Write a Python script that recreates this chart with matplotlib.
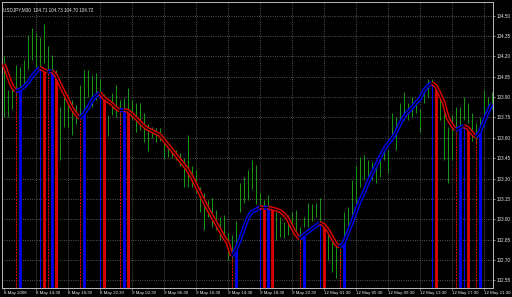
import matplotlib
matplotlib.use("Agg")
import matplotlib.pyplot as plt
import numpy as np

# ---------------- data (USDJPY, M30) ----------------
bar_high = [104.20, 103.95, 103.99, 104.14, 104.12, 104.17, 104.36, 104.41, 104.37, 104.34,
            104.44, 104.28, 104.21, 104.10, 103.83, 103.95, 103.89, 103.88, 103.84, 103.99,
            104.10, 104.10, 104.06, 104.08, 104.03, 103.92, 103.77, 103.93, 103.99, 103.88,
            103.89, 103.97, 103.88, 103.86, 103.86, 103.78, 103.70, 103.68, 103.67, 103.67,
            103.60, 103.57, 103.53, 103.51, 103.49, 103.45, 103.62, 103.39, 103.36, 103.24,
            103.19, 103.14, 103.16, 103.07, 103.02, 103.03, 102.90, 102.88, 102.99, 103.27,
            103.31, 103.36, 103.44, 103.40, 103.19, 103.14, 103.18, 103.02, 103.05, 103.02,
            102.98, 103.03, 103.05, 103.07, 102.94, 103.02, 103.12, 103.11, 103.12, 103.16,
            102.97, 102.90, 102.88, 102.80, 102.77, 103.05, 103.09, 103.29, 103.39, 103.46,
            103.47, 103.44, 103.42, 103.40, 103.46, 103.53, 103.51, 103.78, 103.75, 103.86,
            103.94, 103.86, 103.90, 103.88, 103.81, 103.97, 104.03, 104.03, 103.99, 103.90,
            103.78, 103.68, 103.77, 103.83, 103.83, 103.90, 103.86, 103.78, 103.71, 103.75,
            103.95, 103.90, 103.94]
bar_low = [103.75, 103.75, 103.81, 103.89, 103.95, 103.99, 104.11, 104.17, 104.12, 104.10,
           104.15, 104.06, 104.03, 103.75, 103.44, 103.68, 103.68, 103.62, 103.70, 103.77,
           103.81, 103.90, 103.83, 103.88, 103.79, 103.73, 103.61, 103.77, 103.75, 103.70,
           103.81, 103.75, 103.73, 103.64, 103.66, 103.57, 103.50, 103.60, 103.57, 103.58,
           103.45, 103.46, 103.45, 103.44, 103.39, 103.24, 103.24, 103.24, 103.19, 103.05,
           102.92, 103.02, 102.94, 102.92, 102.85, 102.87, 102.70, 102.69, 102.70, 103.05,
           103.12, 103.14, 103.22, 103.11, 103.02, 102.99, 103.03, 102.92, 102.85, 102.87,
           102.86, 102.88, 102.94, 102.90, 102.81, 102.94, 102.94, 102.99, 103.02, 102.98,
           102.82, 102.70, 102.61, 102.57, 102.63, 102.82, 102.90, 103.02, 103.12, 103.24,
           103.29, 103.27, 103.29, 103.27, 103.31, 103.44, 103.34, 103.58, 103.51, 103.68,
           103.73, 103.73, 103.75, 103.78, 103.64, 103.86, 103.90, 103.92, 103.84, 103.73,
           103.44, 103.27, 103.44, 103.64, 103.64, 103.73, 103.71, 103.58, 103.56, 103.64,
           103.73, 103.81, 103.81]
ma_values = [104.144, 104.063, 103.982, 103.945, 103.953, 103.975, 104.004, 104.049, 104.085, 104.115,
             104.100, 104.085, 104.093, 104.063, 103.997, 103.938, 103.879, 103.820, 103.776, 103.746,
             103.776, 103.820, 103.872, 103.908, 103.931, 103.894, 103.872, 103.850, 103.820, 103.802,
             103.805, 103.798, 103.776, 103.746, 103.717, 103.687, 103.665, 103.651, 103.636, 103.621,
             103.584, 103.547, 103.511, 103.474, 103.437, 103.400, 103.363, 103.312, 103.253, 103.194,
             103.135, 103.076, 103.024, 102.973, 102.921, 102.869, 102.825, 102.729, 102.774, 102.847,
             102.928, 103.009, 103.054, 103.068, 103.090, 103.083, 103.087, 103.079, 103.072, 103.061,
             103.039, 103.002, 102.943, 102.891, 102.855, 102.884, 102.906, 102.928, 102.950, 102.973,
             102.958, 102.921, 102.869, 102.818, 102.796, 102.825, 102.899, 102.973, 103.054, 103.135,
             103.194, 103.267, 103.334, 103.393, 103.452, 103.511, 103.555, 103.592, 103.636, 103.702,
             103.754, 103.791, 103.820, 103.857, 103.886, 103.945, 103.982, 104.004, 103.982, 103.923,
             103.857, 103.746, 103.695, 103.658, 103.673, 103.687, 103.673, 103.636, 103.606, 103.643,
             103.717, 103.791, 103.850]
time_labels = ["8 May 2008", "8 May 14:30", "8 May 18:30", "8 May 22:30", "9 May 02:30",
               "9 May 06:30", "9 May 10:30", "9 May 14:30", "9 May 18:30", "9 May 22:30",
               "12 May 01:30", "12 May 05:30", "12 May 09:30", "12 May 13:30", "12 May 17:30",
               "12 May 21:30"]
price_ticks = [102.55, 102.70, 102.85, 103.00, 103.15, 103.30, 103.45, 103.60, 103.75,
               103.90, 104.05, 104.20, 104.35, 104.50]
title_text = "USDJPY,M30  104.71 104.73 104.70 104.72"

# ---------------- styling ----------------
BG = "black"
GREEN = "#169416"
RED = "#e00000"
BLUE = "#0000ee"
GRID = "#858585"
FG = "#ececec"
FONT = "Liberation Sans"
FS = 3.3
FSX = 3.15

fig = plt.figure(figsize=(5.12, 2.97), dpi=100, facecolor=BG)
ax = fig.add_axes([2 / 512, 9 / 297, 491 / 512, 286 / 297])
ax.set_facecolor(BG)

x = np.arange(len(ma_values))
ma = np.array(ma_values)
ax.set_xlim(-0.45, 122.3)
ax.set_ylim(102.493, 104.601)

# grid
step = 8
for xi in range(step, len(ma_values), step):
    ax.axvline(xi, color=GRID, lw=0.55, ls=(0, (1, 2)), zorder=0)
for p in price_ticks:
    ax.axhline(p, color=GRID, lw=0.55, ls=(0, (1, 2)), zorder=0)

# bars
ax.vlines(x, bar_low, bar_high, color=GREEN, lw=0.75, zorder=1)

# turning-point vertical lines
up = np.diff(ma) > 0
ybot = 102.493
for k in range(1, len(up)):
    if up[k] != up[k - 1]:
        old_c = BLUE if up[k - 1] else RED
        new_c = BLUE if up[k] else RED
        ax.vlines(k, ybot, ma[k], color=old_c, lw=0.75,
                  linestyles="solid" if up[k - 1] else (0, (2, 1)), zorder=2)
        ax.vlines(k + 1, ybot, ma[k + 1], color=new_c, lw=2.0, zorder=2)

# coloured moving average (double line look)
start = 0
for k in range(1, len(up) + 1):
    if k == len(up) or up[k] != up[start]:
        ax.plot(x[start:k + 1], ma[start:k + 1], color=BLUE if up[start] else RED,
                lw=3.0, solid_capstyle="butt", solid_joinstyle="round", zorder=4)
        start = k
ax.plot(x, ma, color="black", lw=0.9, zorder=5)

# axes / ticks
for s in ax.spines.values():
    s.set_color("#b8b8b8")
    s.set_linewidth(0.7)
ax.yaxis.tick_right()
ax.set_yticks(price_ticks)
ax.set_yticklabels([f"{p:.2f}" for p in price_ticks], fontsize=FS, color=FG, family=FONT)
ax.tick_params(axis="y", length=1.5, width=0.5, color="#b8b8b8", pad=1.5)
ax.set_xticks(np.arange(0, len(ma_values), step))
ax.set_xticklabels(time_labels, fontsize=FSX, color=FG, family=FONT, ha="left")
ax.tick_params(axis="x", length=1.5, width=0.5, color="#b8b8b8", pad=0.8)

ax.text(0.003, 0.982, title_text, transform=ax.transAxes, fontsize=FS, color=FG,
        family=FONT, ha="left", va="top")

fig.savefig("out.png", dpi=100, facecolor=BG)
